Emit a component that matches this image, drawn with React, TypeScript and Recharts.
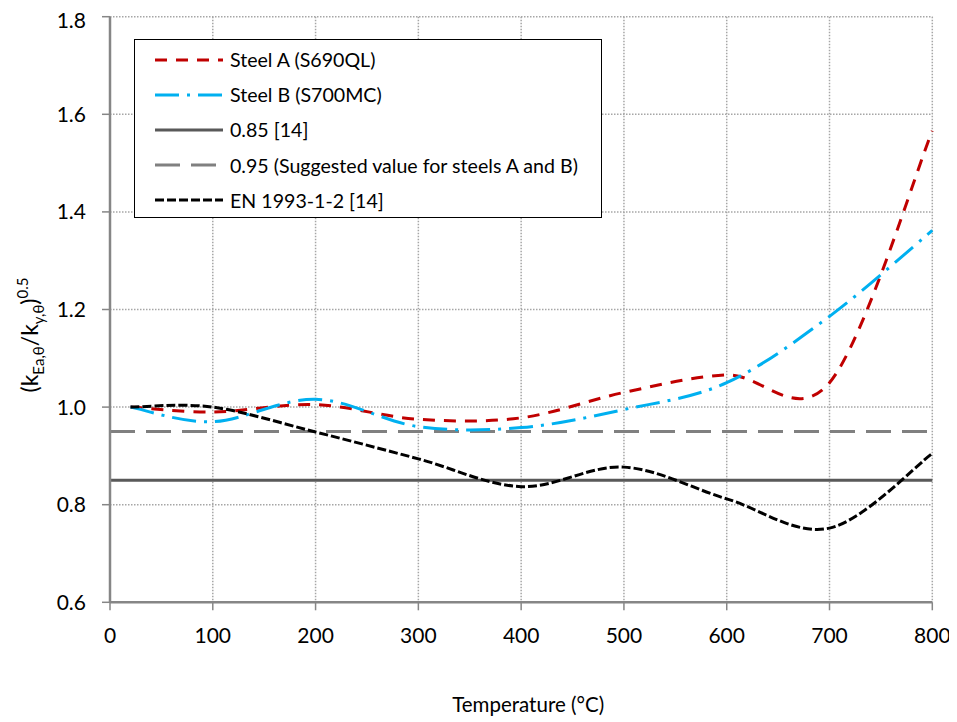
import { CartesianGrid, Label, Legend, Line, LineChart, ReferenceLine, XAxis, YAxis } from 'recharts';

// Temperatures (°C) at which the ratios were evaluated
const TEMPS = [20, 100, 200, 300, 400, 500, 600, 700, 800];
const STEEL_A = [1.0, 0.99, 1.005, 0.975, 0.978, 1.03, 1.066, 1.05, 1.566];
const STEEL_B = [1.0, 0.97, 1.016, 0.96, 0.958, 0.995, 1.05, 1.186, 1.362];
const EN_1993 = [1.0, 1.0, 0.949, 0.894, 0.837, 0.877, 0.812, 0.752, 0.905];

const LIMIT_EC = 0.85;
const LIMIT_SUGGESTED = 0.95;

const X_TICKS = [0, 100, 200, 300, 400, 500, 600, 700, 800];
const Y_TICKS = [0.6, 0.8, 1.0, 1.2, 1.4, 1.6, 1.8];

const FONT = 'Lato, "Open Sans", sans-serif';

const data = TEMPS.map((t, i) => ({
    t,
    steelA: STEEL_A[i],
    steelB: STEEL_B[i],
    en: EN_1993[i],
}));

type Style = { label: string; color: string; dash?: string; width: number };

const LEGEND: Style[] = [
    { label: 'Steel A (S690QL)', color: '#c00000', dash: '12 9', width: 3 },
    { label: 'Steel B (S700MC)', color: '#00b0f0', dash: '24 8 3 8', width: 3 },
    { label: '0.85 [14]', color: '#595959', width: 3 },
    { label: '0.95 (Suggested value for steels A and B)', color: '#808080', dash: '25 11', width: 3 },
    { label: 'EN 1993-1-2 [14]', color: '#000000', dash: '9 3', width: 3 },
];

// Spreadsheet-style smoothing: cubic Bezier segments whose handles follow
// the neighbouring points (Catmull-Rom, 1/6 of the chord).
class SmoothCurve {
    private ctx: any;
    private pts: [number, number][] = [];
    constructor(ctx: any) {
        this.ctx = ctx;
    }
    areaStart() {}
    areaEnd() {}
    lineStart() {
        this.pts = [];
    }
    point(x: number, y: number) {
        this.pts.push([+x, +y]);
    }
    lineEnd() {
        const p = this.pts;
        if (!p.length) return;
        this.ctx.moveTo(p[0][0], p[0][1]);
        for (let i = 0; i < p.length - 1; i++) {
            const prev = p[i - 1] ?? p[i];
            const next = p[i + 2] ?? p[i + 1];
            const c1x = p[i][0] + (p[i + 1][0] - prev[0]) / 6;
            const c1y = p[i][1] + (p[i + 1][1] - prev[1]) / 6;
            const c2x = p[i + 1][0] - (next[0] - p[i][0]) / 6;
            const c2y = p[i + 1][1] - (next[1] - p[i][1]) / 6;
            this.ctx.bezierCurveTo(c1x, c1y, c2x, c2y, p[i + 1][0], p[i + 1][1]);
        }
    }
}
const smooth = (ctx: any) => new SmoothCurve(ctx);

function LegendBox() {
    return (
        <div
            style={{
                width: 466,
                height: 175,
                border: '1.5px solid #000',
                background: '#fff',
                boxSizing: 'content-box',
                fontFamily: FONT,
                fontSize: 19.6,
                color: '#000',
                paddingTop: 2,
            }}
        >
            {LEGEND.map((s) => (
                <div key={s.label} style={{ display: 'flex', alignItems: 'center', height: 35.2, paddingLeft: 20 }}>
                    <svg width={68} height={10} style={{ marginRight: 7 }}>
                        <line
                            x1={0}
                            x2={68}
                            y1={5}
                            y2={5}
                            stroke={s.color}
                            strokeWidth={s.width}
                            strokeDasharray={s.dash}
                        />
                    </svg>
                    <span>{s.label}</span>
                </div>
            ))}
        </div>
    );
}

function YTitle() {
    const cx = 30;
    const cy = 327;
    return (
        <text
            x={cx}
            y={cy}
            transform={`rotate(-90, ${cx}, ${cy})`}
            textAnchor="middle"
            fontFamily={FONT}
            fontSize={23}
            fill="#000"
        >
            (k
            <tspan dy={6} fontSize={15}>
                Ea,θ
            </tspan>
            <tspan dy={-6}>/k</tspan>
            <tspan dy={6} fontSize={15}>
                y,θ
            </tspan>
            <tspan dy={-6}>)</tspan>
            <tspan dy={-10} fontSize={15}>
                0.5
            </tspan>
        </text>
    );
}

function XTitle({ viewBox }: any) {
    return (
        <text
            x={viewBox.x + viewBox.width / 2 + 7}
            y={704}
            textAnchor="middle"
            fontFamily={FONT}
            fontSize={20.5}
            fill="#000"
        >
            Temperature (°C)
        </text>
    );
}

export default function App() {
    const [a, b, ec, sug, en] = LEGEND;
    return (
        <LineChart
            width={949}
            height={714}
            data={data}
            margin={{ top: 8.7, right: 24.7, left: 42, bottom: 59.7 }}
        >
            <CartesianGrid stroke="#a6a6a6" strokeWidth={1.5} strokeDasharray="1.5 1.5" />
            <XAxis
                dataKey="t"
                type="number"
                domain={[0, 800]}
                ticks={X_TICKS}
                height={60}
                tickSize={8}
                tickMargin={18}
                axisLine={{ stroke: '#868686', strokeWidth: 2.5 }}
                tickLine={{ stroke: '#868686', strokeWidth: 1.5 }}
                tick={{ fill: '#000', fontSize: 21, fontFamily: FONT }}
            >
                <Label content={XTitle} />
            </XAxis>
            <YAxis
                type="number"
                domain={[0.6, 1.8]}
                ticks={Y_TICKS}
                width={60}
                tickSize={8}
                tickMargin={16}
                tickFormatter={(v: number) => v.toFixed(1)}
                axisLine={{ stroke: '#868686', strokeWidth: 2.5 }}
                tickLine={{ stroke: '#868686', strokeWidth: 1.5 }}
                tick={{ fill: '#000', fontSize: 21, fontFamily: FONT }}
            >
                <Label content={YTitle} />
            </YAxis>
            <ReferenceLine y={LIMIT_SUGGESTED} stroke={sug.color} strokeWidth={sug.width} strokeDasharray={sug.dash} />
            <ReferenceLine y={LIMIT_EC} stroke={ec.color} strokeWidth={ec.width} />
            <Line
                dataKey="steelA"
                type={smooth as any}
                stroke={a.color}
                strokeWidth={a.width}
                strokeDasharray={a.dash}
                dot={false}
                isAnimationActive={false}
            />
            <Line
                dataKey="steelB"
                type={smooth as any}
                stroke={b.color}
                strokeWidth={b.width}
                strokeDasharray={b.dash}
                dot={false}
                isAnimationActive={false}
            />
            <Line
                dataKey="en"
                type={smooth as any}
                stroke={en.color}
                strokeWidth={en.width}
                strokeDasharray={en.dash}
                dot={false}
                isAnimationActive={false}
            />
            <Legend
                layout="vertical"
                align="center"
                verticalAlign="middle"
                wrapperStyle={{ left: 126, top: 31, width: 'auto' }}
                content={() => <LegendBox />}
            />
        </LineChart>
    );
}
